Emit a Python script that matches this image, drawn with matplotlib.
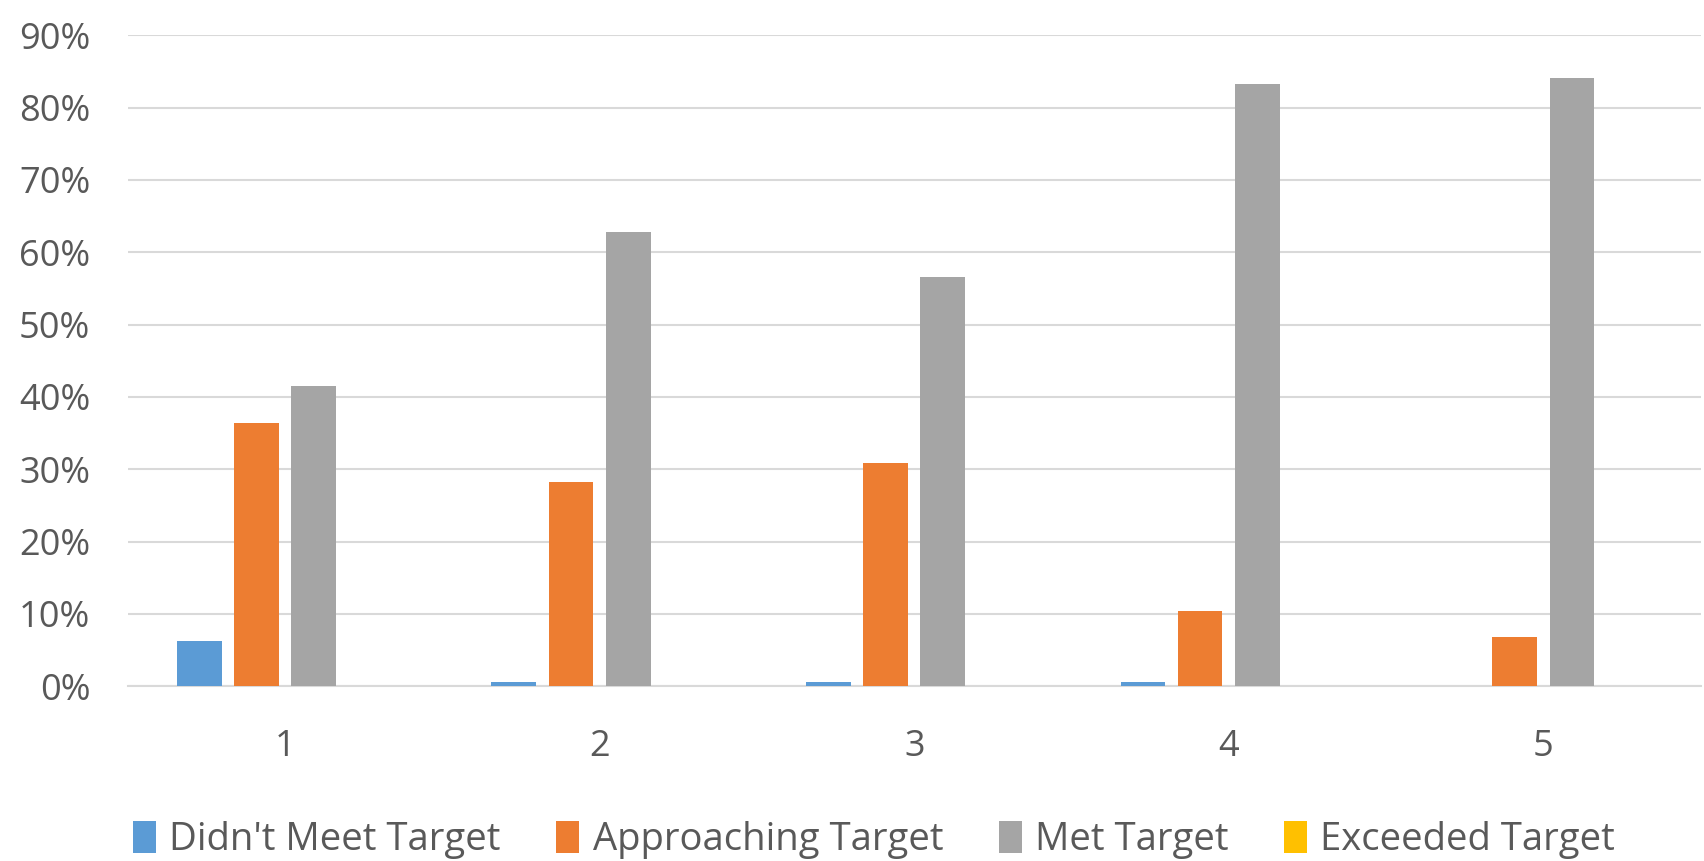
import numpy as np
import matplotlib
matplotlib.use("Agg")
import matplotlib.pyplot as plt
from matplotlib.ticker import PercentFormatter

# data
categories = ["1", "2", "3", "4", "5"]
didnt_meet = [6.2, 0.6, 0.6, 0.6, 0.0]
approaching = [36.4, 28.2, 30.8, 10.4, 6.8]
met = [41.5, 62.8, 56.6, 83.2, 84.1]
exceeded = [0.0, 0.0, 0.0, 0.0, 0.0]

series = [
    ("Didn't Meet Target", didnt_meet, "#5B9BD5"),
    ("Approaching Target", approaching, "#ED7D31"),
    ("Met Target", met, "#A5A5A5"),
    ("Exceeded Target", exceeded, "#FFC000"),
]

plt.rcParams['font.family'] = ['Open Sans', 'DejaVu Sans']
text_color = "#595959"

fig = plt.figure(figsize=(17.04, 8.61), dpi=100)
ax = fig.add_axes([0.075, 0.203, 0.923, 0.756])

x = np.arange(1, len(categories) + 1)
step = 0.182
width = 0.142
for i, (name, vals, color) in enumerate(series):
    ax.bar(x + (i - 1.5) * step, np.array(vals) / 100, width, color=color, label=name, zorder=3)

ax.set_xlim(0.5, 5.5)
ax.set_ylim(0, 0.9)
ax.set_yticks(np.arange(0, 0.91, 0.1))
ax.yaxis.set_major_formatter(PercentFormatter(1.0, decimals=0))
ax.set_xticks(x)
ax.set_xticklabels(categories)

ax.grid(axis="y", color="#D9D9D9", linewidth=1.5, zorder=0)
for s in ["top", "right", "left"]:
    ax.spines[s].set_visible(False)
ax.spines["bottom"].set_color("#D9D9D9")
ax.spines["bottom"].set_linewidth(1.5)
ax.tick_params(axis="both", length=0, colors=text_color, labelsize=26)
ax.tick_params(axis="x", pad=31)
ax.tick_params(axis="y", pad=27)

leg = fig.legend(loc="center", ncol=4, frameon=False, fontsize=27.5,
                 bbox_to_anchor=(0.513, 0.024), handlelength=0.6, handleheight=0.9,
                 handletextpad=0.35, columnspacing=1.45)
for t in leg.get_texts():
    t.set_color(text_color)

fig.savefig("out.png", dpi=100)
